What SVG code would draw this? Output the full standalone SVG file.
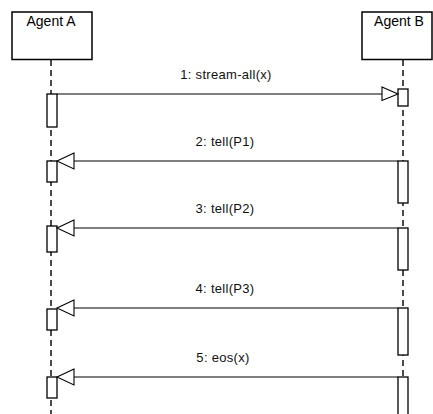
<svg xmlns="http://www.w3.org/2000/svg" width="433" height="414" viewBox="0 0 433 414">
<defs>
<style>
.box{fill:#fff;stroke:#000;stroke-width:1.5}
.life{stroke:#000;stroke-width:1.4;stroke-dasharray:6,4;fill:none}
.act{fill:#fff;stroke:#000;stroke-width:1.3}
.msg{stroke:#000;stroke-width:1.1;fill:none}
.head{fill:#fff;stroke:#000;stroke-width:1.1}
.lbl{font-family:"Liberation Sans",Arial,sans-serif;font-size:13px;fill:#111;text-anchor:middle;letter-spacing:0.3px}
.name{font-family:"Liberation Sans",Arial,sans-serif;font-size:14px;fill:#000;text-anchor:middle}
</style>
</defs>
<rect width="433" height="414" fill="#fff"/>
<g id="agentA">
<line class="life" x1="51" y1="60" x2="51" y2="414"/>
<rect class="box" x="12" y="12" width="80" height="47.5"/>
<text class="name" x="51" y="26">Agent A</text>
</g>
<g id="agentB">
<line class="life" x1="403" y1="60" x2="403" y2="414"/>
<rect class="box" x="362" y="12" width="70" height="47.5"/>
<text class="name" x="399" y="26">Agent B</text>
</g>
<g id="activations">
<rect class="act" x="47" y="94" width="10" height="33"/>
<rect class="act" x="398" y="89" width="10" height="17"/>
<rect class="act" x="47" y="161" width="10" height="21"/>
<rect class="act" x="398" y="161" width="10" height="42"/>
<rect class="act" x="47" y="226" width="10" height="26"/>
<rect class="act" x="398" y="228" width="10" height="42"/>
<rect class="act" x="47" y="309" width="10" height="21"/>
<rect class="act" x="398" y="308" width="10" height="47"/>
<rect class="act" x="47" y="377" width="10" height="21"/>
<rect class="act" x="398" y="377" width="10" height="40"/>
</g>
<g id="connectors">
<line class="msg" x1="57" y1="94" x2="382" y2="94"/>
<polygon class="head" points="382,87 398,94 382,100.5"/>
<line class="msg" x1="398" y1="161" x2="74" y2="161"/>
<polygon class="head" points="74,153 57,161 74,169"/>
<line class="msg" x1="398" y1="228" x2="74" y2="228"/>
<polygon class="head" points="74,220 57,228 74,236"/>
<line class="msg" x1="398" y1="308" x2="74" y2="308"/>
<polygon class="head" points="74,300 57,308 74,316"/>
<line class="msg" x1="398" y1="377" x2="74" y2="377"/>
<polygon class="head" points="74,369 57,377 74,385"/>
</g>
<g id="labels">
<text class="lbl" x="226" y="79">1: stream-all(x)</text>
<text class="lbl" x="225" y="146">2: tell(P1)</text>
<text class="lbl" x="225" y="213">3: tell(P2)</text>
<text class="lbl" x="225" y="293">4: tell(P3)</text>
<text class="lbl" x="223" y="362">5: eos(x)</text>
</g>
</svg>
